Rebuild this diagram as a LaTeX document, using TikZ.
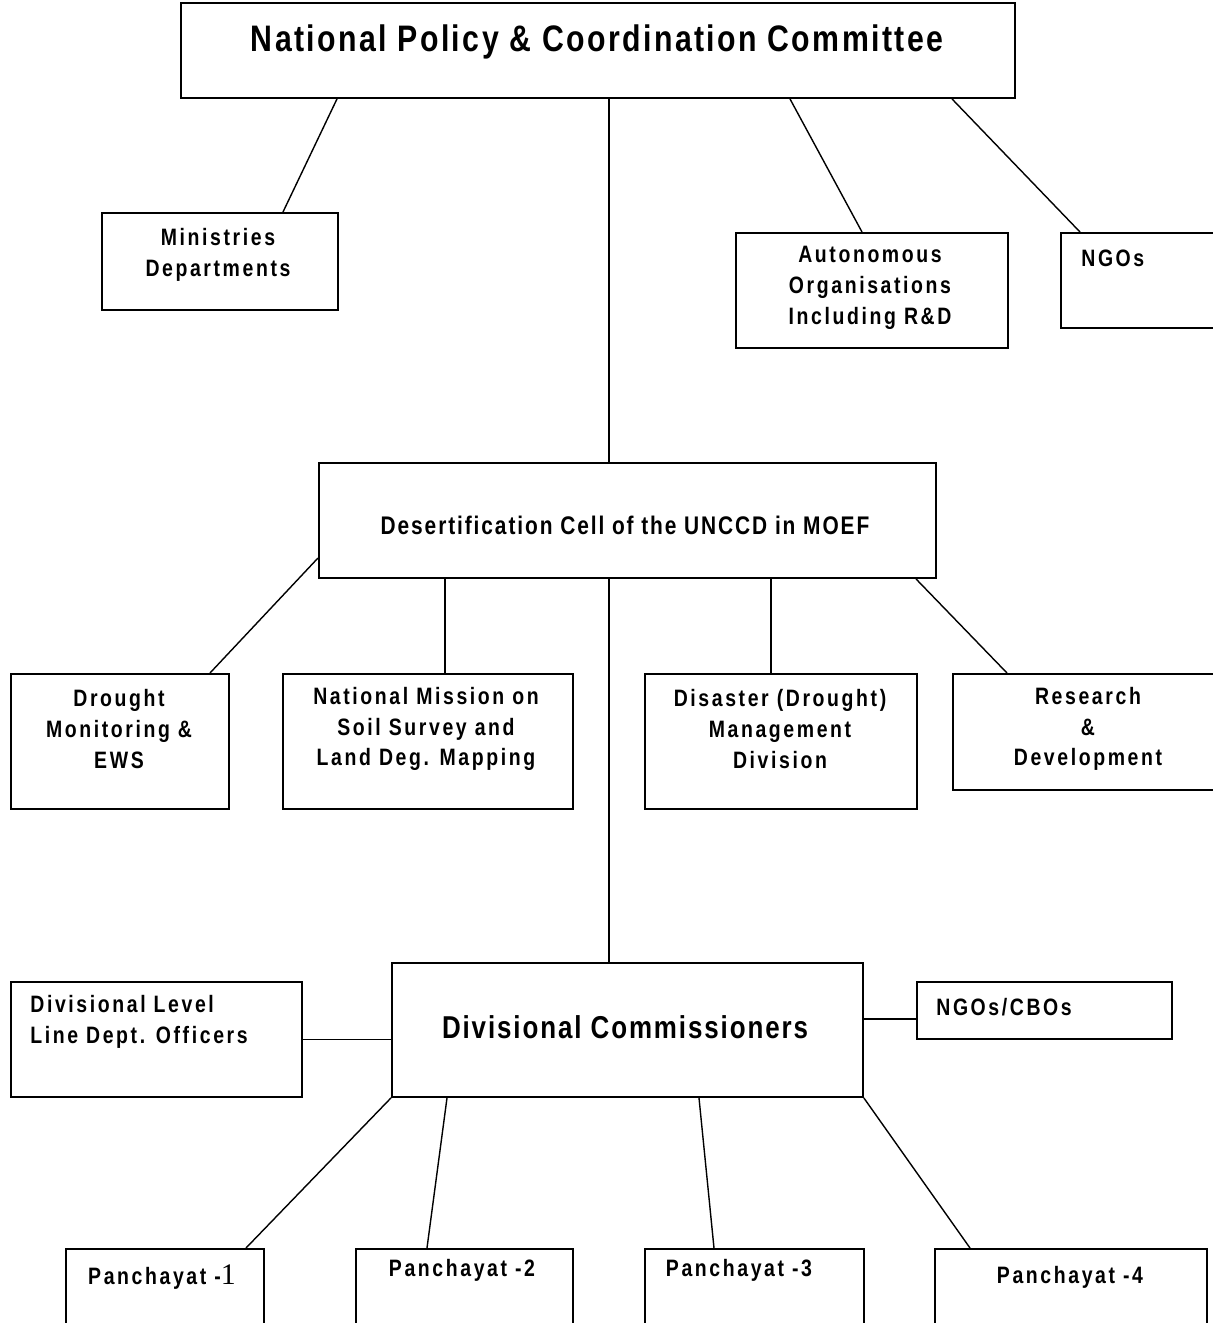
\documentclass[tikz,border=0pt]{standalone}
\usepackage{fontspec}
\setmainfont{Liberation Sans}[FakeStretch=0.82, LetterSpace=11]
\newfontfamily\titlefont{Liberation Sans}[FakeStretch=0.82, LetterSpace=6.5]
\newfontfamily\cellfont{Liberation Sans}[FakeStretch=0.82, LetterSpace=7.5]
\newfontfamily\divfont{Liberation Sans}[FakeStretch=0.82, LetterSpace=6]
\newfontfamily\serifone{Liberation Serif}
\usetikzlibrary{calc}

\begin{document}
\begin{tikzpicture}[
    x=0.02cm, y=-0.02cm,
    % Style for the framed boxes
    box/.style={draw, line width=1.1pt, inner sep=0pt, anchor=north west},
    % Style for the connecting lines
    link/.style={line width=0.8pt},
    % Styles for the texts
    txt/.style={font=\bfseries\fontsize{13.5}{17.5}\selectfont, align=center, inner sep=0pt},
    lefttxt/.style={txt, align=left, anchor=west}
]
    \useasboundingbox (0,0) rectangle (1213,1323);

    % --- 1. Top level ---
    \node[box, minimum width=16.68cm, minimum height=1.90cm] (npcc) at (180,2) {};
    \node[box, minimum width=4.72cm, minimum height=1.94cm] (min) at (101,212) {};
    \node[box, minimum width=5.44cm, minimum height=2.30cm] (auton) at (735,232) {};
    \node[box, minimum width=3.40cm, minimum height=1.90cm] (ngo) at (1060,232) {};

    \node[txt, font=\titlefont\bfseries\fontsize{21}{25}\selectfont] (npcc text) at (597,42)
        {National Policy \& Coordination Committee};
    \node[txt] (min text) at (218,255) {Ministries\\Departments};
    \node[txt] (auton text) at (870,288) {Autonomous\\Organisations\\Including R\&D};
    \node[lefttxt] (ngo text) at (1081,258) {NGOs};

    % --- 2. Desertification cell and its divisions ---
    \node[box, minimum width=12.34cm, minimum height=2.30cm] (cell) at (318,462) {};
    \node[box, minimum width=4.36cm, minimum height=2.70cm] (drought) at (10,673) {};
    \node[box, minimum width=5.80cm, minimum height=2.70cm] (soil) at (282,673) {};
    \node[box, minimum width=5.44cm, minimum height=2.70cm] (disaster) at (644,673) {};
    \node[box, minimum width=5.60cm, minimum height=2.32cm] (research) at (952,673) {};

    \node[txt, font=\cellfont\bfseries\fontsize{14.5}{18}\selectfont] (cell text) at (625,525)
        {Desertification Cell of the UNCCD in MOEF};
    \node[txt] (drought text) at (119,729) {Drought\\Monitoring \&\\EWS};
    \node[txt] (soil text) at (426,729) {National Mission on\\Soil Survey and\\Land Deg. Mapping};
    \node[txt] (disaster text) at (780,729) {Disaster (Drought)\\Management\\Division};
    \node[txt] (research text) at (1088,729) {Research\\\&\\Development};

    % --- 3. Divisional level ---
    \node[box, minimum width=9.42cm, minimum height=2.68cm] (divcomm) at (391,962) {};
    \node[box, minimum width=5.82cm, minimum height=2.30cm] (divlvl) at (10,981) {};
    \node[box, minimum width=5.10cm, minimum height=1.14cm] (ngocbo) at (916,981) {};

    \node[txt, font=\divfont\bfseries\fontsize{18}{22}\selectfont] (divcomm text) at (625,1027)
        {Divisional Commissioners};
    \node[lefttxt] (divlvl text) at (30,1022) {Divisional Level\\Line Dept. Officers};
    \node[lefttxt] (ngocbo text) at (936,1007) {NGOs/CBOs};

    % --- 4. Panchayats (cut by the lower edge) ---
    \node[box, minimum width=3.96cm, minimum height=2.4cm] (p1) at (65,1248) {};
    \node[box, minimum width=4.34cm, minimum height=2.4cm] (p2) at (355,1248) {};
    \node[box, minimum width=4.38cm, minimum height=2.4cm] (p3) at (644,1248) {};
    \node[box, minimum width=5.44cm, minimum height=2.4cm] (p4) at (934,1248) {};

    \node[txt] (p1 text) at (162,1277) {Panchayat -{\serifone\mdseries\fontsize{17}{17}\selectfont 1}};
    \node[txt] (p2 text) at (462,1270) {Panchayat -2};
    \node[txt] (p3 text) at (739,1270) {Panchayat -3};
    \node[txt] (p4 text) at (1070,1277) {Panchayat -4};

    % --- 5. Connectors ---
    \draw[link] ($(npcc.south west)+(157,0)$) -- ($(min.north west)+(182,0)$);
    \draw[link] ($(npcc.south west)+(429,0)$) -- ($(cell.north west)+(291,0)$);
    \draw[link] ($(npcc.south west)+(610,0)$) -- ($(auton.north west)+(127,0)$);
    \draw[link] ($(npcc.south west)+(772,0)$) -- ($(ngo.north west)+(20,0)$);

    \draw[link] ($(cell.north west)+(0,96)$) -- ($(drought.north west)+(200,0)$);
    \draw[link] ($(cell.south west)+(127,0)$) -- ($(soil.north west)+(163,0)$);
    \draw[link] ($(cell.south west)+(291,0)$) -- ($(divcomm.north west)+(218,0)$);
    \draw[link] ($(cell.south west)+(453,0)$) -- ($(disaster.north west)+(127,0)$);
    \draw[link] ($(cell.south west)+(598,0)$) -- ($(research.north west)+(55,0)$);

    \draw[link] (divlvl.east) -- (divlvl.east -| divcomm.west);
    \draw[link] ($(divcomm.north east)+(0,57)$) coordinate (ngocbo link)
        -- (ngocbo link -| ngocbo.west);

    \draw[link] (divcomm.south west) -- ($(p1.north west)+(181,0)$);
    \draw[link] ($(divcomm.south west)+(56,0)$) -- ($(p2.north west)+(72,0)$);
    \draw[link] ($(divcomm.south west)+(308,0)$) -- ($(p3.north west)+(70,0)$);
    \draw[link] (divcomm.south east) -- ($(p4.north west)+(36,0)$);

\end{tikzpicture}
\end{document}
